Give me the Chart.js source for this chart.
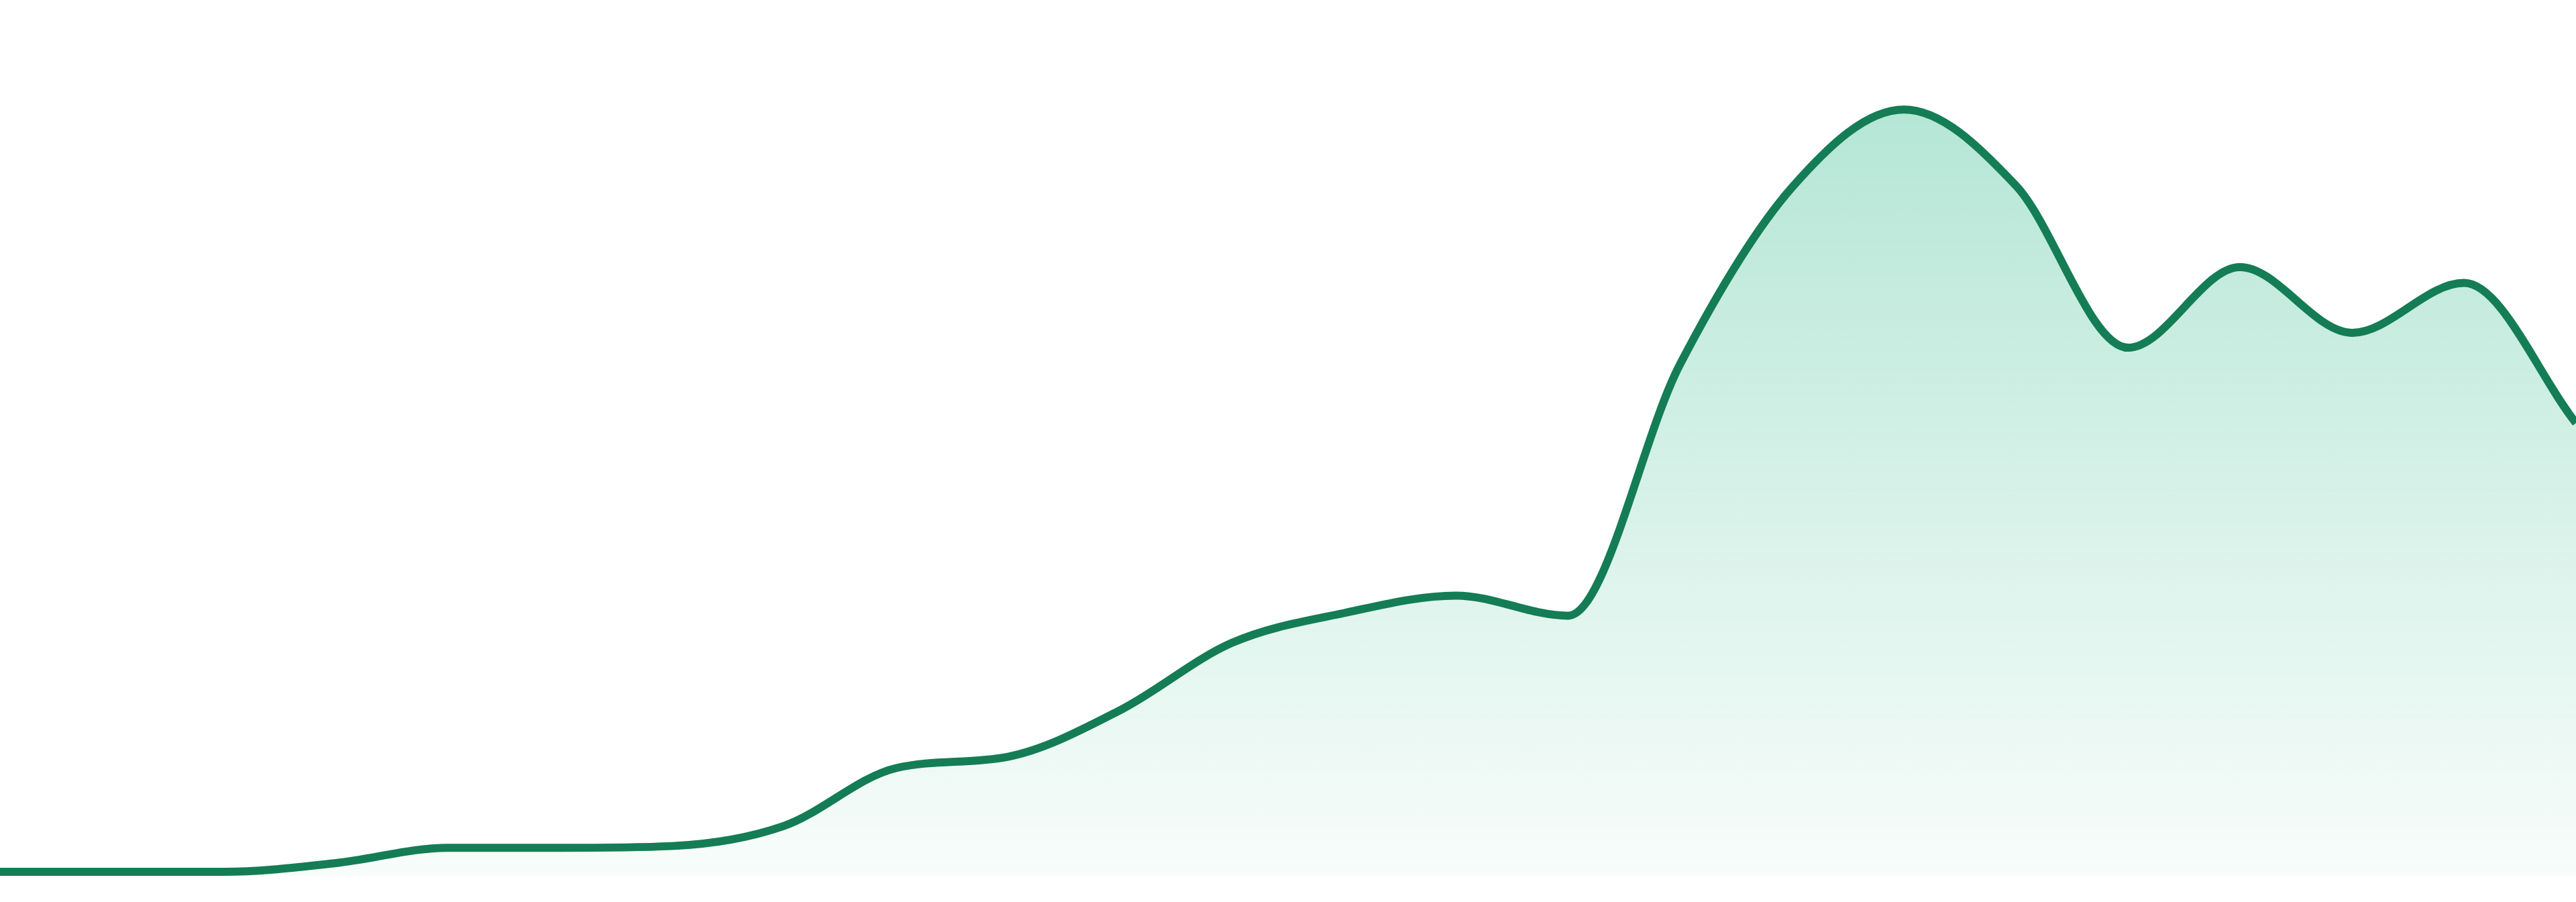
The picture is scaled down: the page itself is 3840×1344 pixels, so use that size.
<!DOCTYPE html>
<html>
<head>
<meta charset="utf-8">
<script src="https://cdn.jsdelivr.net/npm/chart.js@4/dist/chart.umd.min.js"></script>
<style>
  html, body { margin: 0; padding: 0; background: #ffffff; }
  #wrap { width: 3840px; height: 1344px; position: relative; }
</style>
</head>
<body>
<div id="wrap"><canvas id="c"></canvas></div>
<script>
const labels = ["1","2","3","4","5","6","7","8","9","10","11","12","13","14","15","16","17","18","19","20","21","22","23","24"];
const values = [0.46, 0.46, 0.46, 1.46, 3.2, 3.2, 3.4, 5.7, 12.3, 13.6, 18.9, 26.6, 30.0, 32.0, 29.7, 58.4, 78.6, 87.5, 78.8, 60.3, 69.5, 62.0, 67.7, 51.7];
const yMin = 0;
const yMax = 100;

const lineColor = "#147d56";

const ctx = document.getElementById("c").getContext("2d");
new Chart(ctx, {
  type: "line",
  data: {
    labels: labels,
    datasets: [{
      data: values,
      borderColor: lineColor,
      borderWidth: 12,
      pointRadius: 0,
      pointHoverRadius: 0,
      cubicInterpolationMode: "monotone",
      fill: "start",
      backgroundColor: function(context) {
        const chart = context.chart;
        const area = chart.chartArea;
        if (!area) return "rgba(16,185,129,0.2)";
        const g = chart.ctx.createLinearGradient(0, area.top, 0, area.bottom);
        g.addColorStop(0, "rgba(16,175,120,0.35)");
        g.addColorStop(1, "rgba(16,175,120,0.03)");
        return g;
      }
    }]
  },
  options: {
    responsive: true,
    maintainAspectRatio: false,
    animation: false,
    layout: { padding: { left: 0, right: 0, top: 0, bottom: 39 } },
    plugins: { legend: { display: false }, tooltip: { enabled: false } },
    scales: {
      x: { display: false, offset: false },
      y: { display: false, min: yMin, max: yMax }
    }
  }
});
</script>
</body>
</html>
